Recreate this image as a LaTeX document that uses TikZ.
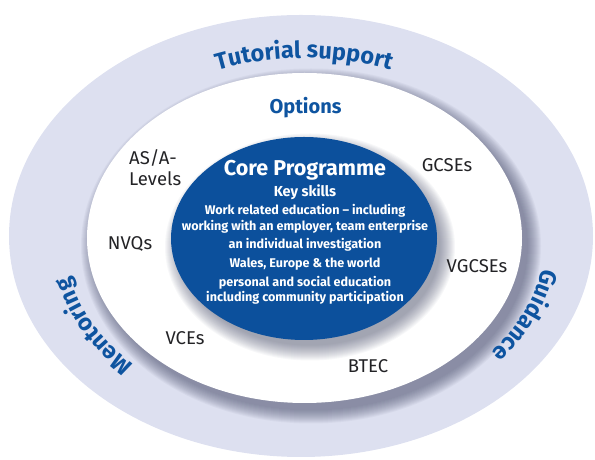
\documentclass[tikz,border=0pt]{standalone}
\usepackage{fontspec}
\setmainfont{Fira Sans}
\usepackage{tikz}
\usetikzlibrary{decorations.text}
\definecolor{bandgrey}{RGB}{221,224,240}
\definecolor{coreblue}{RGB}{12,80,156}
\definecolor{headblue}{RGB}{14,84,160}
\definecolor{labelgrey}{RGB}{35,35,38}
\definecolor{shadowgrey}{RGB}{70,75,105}
\newcommand\bandfont{\fontsize{23.5}{23.5}\selectfont\bfseries\color{headblue}}
\tikzset{
  option/.style={
    text=labelgrey,
    font=\fontsize{18.5}{21}\selectfont,
    inner sep=0pt
  },
  corehead/.style={
    text=white,
    font=\fontsize{#1}{#1}\selectfont\bfseries,
    inner sep=0pt
  },
  coreline/.style={
    corehead=12.6
  },
  bandlabel/.style={
    decorate,
    decoration={text along path, text align=center, text={|\bandfont|#1}}
  }
}

\begin{document}
\begin{tikzpicture}[x=1pt, y=1pt]
  \useasboundingbox (0,0) rectangle (595,460);
  \coordinate (c) at (304,222);

  \fill[bandgrey] (301,224) ellipse [x radius=292, y radius=221];
  \foreach \r in {1,...,14}
    \fill[shadowgrey, opacity=0.05] (311,214) ellipse [x radius=216+\r, y radius=163.5+\r];
  \fill[white] (304.5,222) ellipse [x radius=217.5, y radius=165];
  \foreach \r in {1,...,16}
    \fill[shadowgrey, opacity=0.04] (310,213) ellipse [x radius=129+\r, y radius=97.5+\r];
  \fill[coreblue] (304,221.5) ellipse [x radius=133, y radius=101.5];

  \path[bandlabel=Tutorial support] ([shift={(130:240 and 180)}]c)
    arc [start angle=130, end angle=50, x radius=240, y radius=180];
  \path[bandlabel=Mentoring] ([shift={(239:240 and 180)}]c)
    arc [start angle=239, end angle=175, x radius=240, y radius=180];
  \path[bandlabel=Guidance] ([shift={(9:242 and 180)}]c)
    arc [start angle=9, end angle=-55, x radius=242, y radius=180];

  \node[inner sep=0pt, text=headblue, font=\fontsize{20}{20}\selectfont\bfseries]
    (options) at (305.5,352) {Options};

  \node[option, anchor=west, align=left] (alevels) at (129,292.5) {AS/A-\\Levels};
  \node[option] (gcse) at (447,295) {GCSEs};
  \node[option] (nvq) at (130,216) {NVQs};
  \node[option] (vgcse) at (477,194) {VGCSEs};
  \node[option] (vce) at (185,122) {VCEs};
  \node[option] (btec) at (368,94) {BTEC};

  \node[corehead=21.5] (core) at (305,290) {Core Programme};
  \node[corehead=14.5] (skills) at (305,268) {Key skills};
  \node[coreline] (work) at (305,249) {Work related education – including};
  \node[coreline] (employer) at (305,233) {working with an employer, team enterprise};
  \node[coreline] (project) at (305,215) {an individual investigation};
  \node[coreline] (wales) at (305,196) {Wales, Europe \& the world};
  \node[coreline] (pse) at (305,177) {personal and social education};
  \node[coreline] (community) at (305,162) {including community participation};
\end{tikzpicture}
\end{document}
